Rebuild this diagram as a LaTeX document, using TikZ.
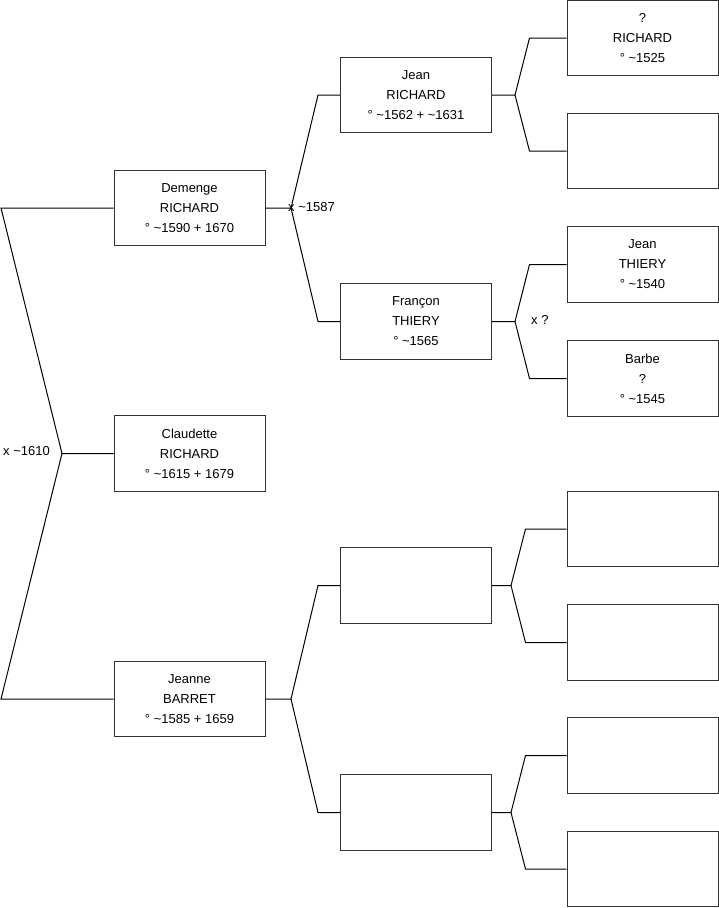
\documentclass[tikz,border=0pt]{standalone}
\usepackage{fontspec}
\setmainfont{Liberation Sans}
\newcommand\tld{\textasciitilde}
\begin{document}
\begin{tikzpicture}[x=1pt,y=-1pt,
  pbox/.style={draw=black!80,line width=1pt,fill=white,minimum width=151pt,minimum height=75.5pt,inner sep=0pt,align=center,
    font=\fontsize{13}{20}\selectfont},
  conn/.style={draw=black,line width=1pt},
  lbl/.style={anchor=west,inner sep=0pt,font=\fontsize{13}{15}\selectfont}]
\useasboundingbox (0,0) rectangle (719,908);
% generation 1
\node[pbox] (dem) at (189.5,208) {Demenge\\RICHARD\\° \tld1590 + 1670};
\node[pbox] (cla) at (189.5,453.5) {Claudette\\RICHARD\\° \tld1615 + 1679};
\node[pbox] (jea) at (189.5,699) {Jeanne\\BARRET\\° \tld1585 + 1659};
% generation 2
\node[pbox] (jr) at (416,95) {Jean\\RICHARD\\° \tld1562 + \tld1631};
\node[pbox] (ft) at (416,321.5) {Françon\\THIERY\\° \tld1565};
\node[pbox] (e1) at (416,585.5) {};
\node[pbox] (e2) at (416,812.5) {};
% generation 3
\node[pbox] (qr) at (642.5,38) {?\\RICHARD\\° \tld1525};
\node[pbox] (e3) at (642.5,151) {};
\node[pbox] (jt) at (642.5,264.5) {Jean\\THIERY\\° \tld1540};
\node[pbox] (bb) at (642.5,378.5) {Barbe\\?\\° \tld1545};
\node[pbox] (e4) at (642.5,529) {};
\node[pbox] (e5) at (642.5,642.5) {};
\node[pbox] (e6) at (642.5,755.5) {};
\node[pbox] (e7) at (642.5,869) {};
% junctions
\coordinate (j0) at (1,208);
\coordinate (j1) at (62,453.5);
\coordinate (j2) at (1,699);
\coordinate (jd) at (291,208);
\coordinate (jj) at (291,699);
\coordinate (jr1) at (515,95);
\coordinate (jf1) at (515,321.5);
\coordinate (je1) at (511,585.5);
\coordinate (je2) at (511,812.5);
% connectors
\draw[conn] (dem.west) -- (j0) -- (j1) -- (cla.west);
\draw[conn] (j1) -- (j2) -- (jea.west);
\draw[conn] (dem.east) -- (jd) -- ([xshift=-22pt]jr.west) -- (jr.west);
\draw[conn] (jd) -- ([xshift=-22pt]ft.west) -- (ft.west);
\draw[conn] (jea.east) -- (jj) -- ([xshift=-22pt]e1.west) -- (e1.west);
\draw[conn] (jj) -- ([xshift=-22pt]e2.west) -- (e2.west);
\draw[conn] (jr.east) -- (jr1) -- ([xshift=-37pt]qr.west) -- (qr.west);
\draw[conn] (jr1) -- ([xshift=-37pt]e3.west) -- (e3.west);
\draw[conn] (ft.east) -- (jf1) -- ([xshift=-37pt]jt.west) -- (jt.west);
\draw[conn] (jf1) -- ([xshift=-37pt]bb.west) -- (bb.west);
\draw[conn] (e1.east) -- (je1) -- ([xshift=-41pt]e4.west) -- (e4.west);
\draw[conn] (je1) -- ([xshift=-41pt]e5.west) -- (e5.west);
\draw[conn] (e2.east) -- (je2) -- ([xshift=-41pt]e6.west) -- (e6.west);
\draw[conn] (je2) -- ([xshift=-41pt]e7.west) -- (e7.west);
% marriage labels
\node[lbl] (m1) at (288,207) {x \tld1587};
\node[lbl] (m2) at (3,451.5) {x \tld1610};
\node[lbl] (m3) at (531,320) {x ?};
\end{tikzpicture}
\end{document}
